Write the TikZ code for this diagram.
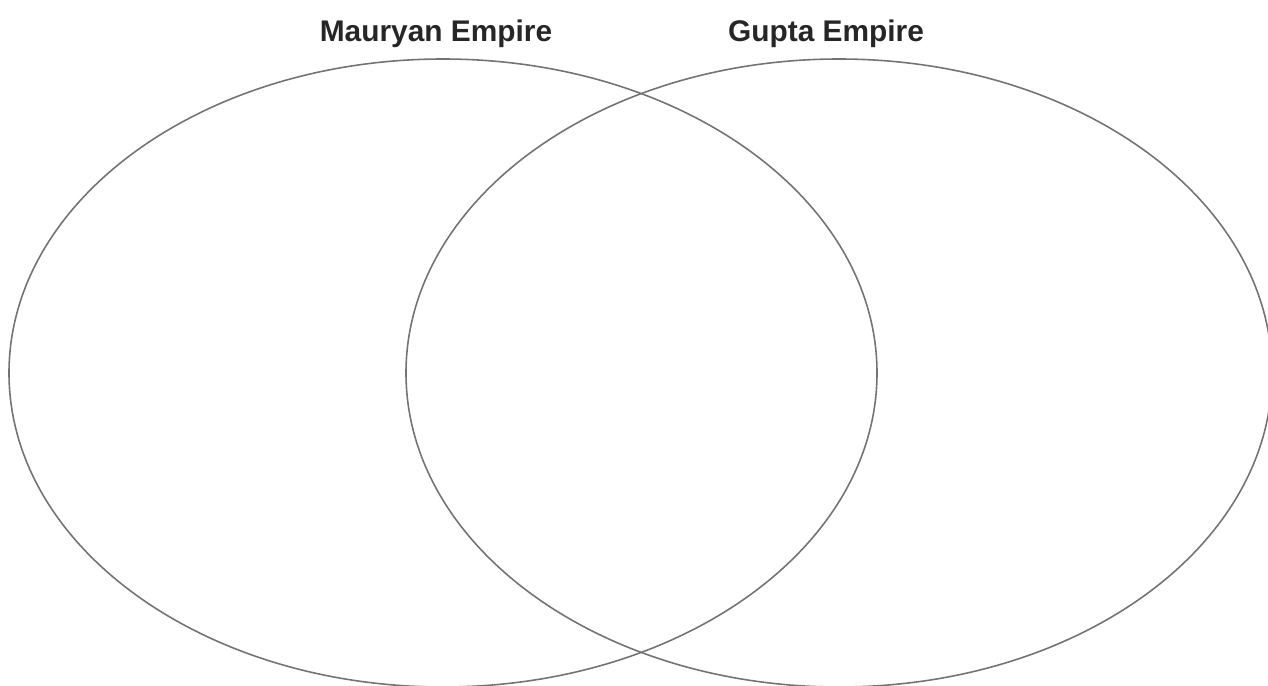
\documentclass[tikz,border=0pt]{standalone}
\usepackage{fontspec}
\setmainfont{Liberation Sans}
\usetikzlibrary{positioning}

\begin{document}
\begin{tikzpicture}[x=0.02cm,y=-0.02cm,
    ring/.style={draw=black!55,line width=0.9pt},
    title/.style={font=\fontsize{17}{20}\selectfont\bfseries,text=black!85,anchor=base,inner sep=0pt}]
                \useasboundingbox (0,0) rectangle (1268,686);
                \draw [ring] (443,373) ellipse [x radius=434,y radius=314];
                \draw [ring] (839,373) ellipse [x radius=433,y radius=314];
                \node [title] (maurya) at (436,42) {Mauryan Empire};
                \node [title] (gupta) at (826,42) {Gupta Empire};
            \end{tikzpicture}
\end{document}
